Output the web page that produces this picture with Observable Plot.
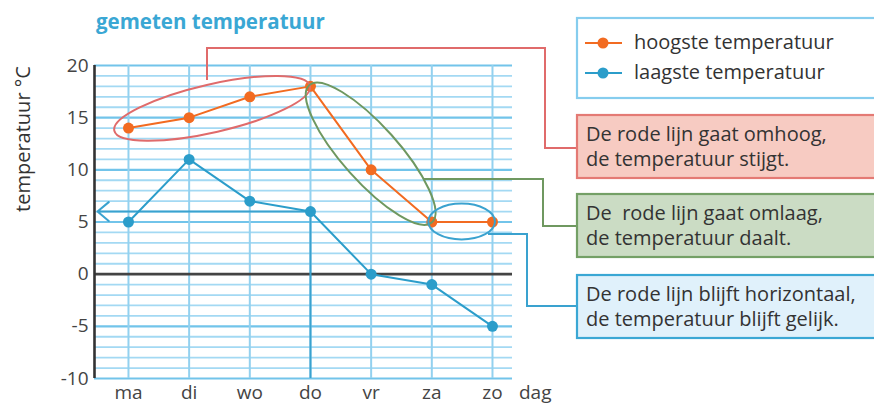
<!DOCTYPE html>
<html><head><meta charset="utf-8">
<script src="https://cdn.jsdelivr.net/npm/d3@7"></script>
<script src="https://cdn.jsdelivr.net/npm/@observablehq/plot@0.6"></script>
<style>body{margin:0;background:#fff} svg{display:block}</style>
</head><body><div id="chart"></div>
<script>
// ---- data ----
const days = ["ma", "di", "wo", "do", "vr", "za", "zo"];
const hoogste = [14, 15, 17, 18, 10, 5, 5];
const laagste = [5, 11, 7, 6, 0, -1, -5];
const yTicks = [20, 15, 10, 5, 0, -5, -10];
const seriesNames = ["hoogste temperatuur", "laagste temperatuur"];
const title = "gemeten temperatuur";
const yLabel = "temperatuur °C";
const xLabel = "dag";
const notes = [
  ["De rode lijn gaat omhoog,", "de temperatuur stijgt."],
  ["De  rode lijn gaat omlaag,", "de temperatuur daalt."],
  ["De rode lijn blijft horizontaal,", "de temperatuur blijft gelijk."]
];
const markDay = 3; // "do": arrow to the y-axis

const FONT = "'Open Sans', 'Noto Sans', sans-serif";
const orange = "#f26b21", blue = "#2b9dca", txt = "#333";
const xMin = -0.56, xMax = 6.33;

const hi = days.map((d, i) => ({i, v: hoogste[i]}));
const lo = days.map((d, i) => ({i, v: laagste[i]}));
const gridY = d3.range(-10, 21);

const chart = Plot.plot({
  width: 874, height: 405,
  marginLeft: 94, marginRight: 362, marginTop: 65, marginBottom: 27,
  style: {fontFamily: FONT, fontSize: "18px", color: "#444", background: "transparent", overflow: "visible"},
  x: {domain: [xMin, xMax], axis: null},
  y: {domain: [-10, 20], axis: null},
  marks: [
    Plot.ruleY(gridY.filter(v => v % 5 !== 0), {stroke: "#a3d9f3", strokeWidth: 1.8}),
    Plot.ruleY(gridY.filter(v => v % 5 === 0 && v !== 0), {stroke: "#72c4ea", strokeWidth: 2.2}),
    Plot.ruleX(d3.range(days.length), {stroke: "#93d1ef", strokeWidth: 2}),
    Plot.ruleY([0], {stroke: "#444", strokeWidth: 2.6}),
    Plot.ruleX([xMin], {stroke: "#333", strokeWidth: 2.6}),
    Plot.ruleX([markDay], {x: d => d, y1: -10, y2: laagste[markDay], stroke: "#3aa2cf", strokeWidth: 2}),
    Plot.arrow([markDay], {x1: d => d, y1: laagste[markDay], x2: xMin, y2: laagste[markDay],
      stroke: "#3aa2cf", strokeWidth: 2, headLength: 11, headAngle: 80, insetEnd: 3}),
    Plot.axisY({ticks: yTicks, tickFormat: d => String(d), tickSize: 0, tickPadding: 6, fontSize: 19, fill: "#444", label: null}),
    Plot.axisX({ticks: d3.range(days.length), tickFormat: i => days[i], tickSize: 0, tickPadding: 7, fontSize: 19, fill: "#444", label: null}),
    Plot.line(hi, {x: "i", y: "v", stroke: orange, strokeWidth: 2}),
    Plot.line(lo, {x: "i", y: "v", stroke: blue, strokeWidth: 2}),
    Plot.dot(hi, {x: "i", y: "v", r: 5.5, fill: orange}),
    Plot.dot(lo, {x: "i", y: "v", r: 5.5, fill: blue})
  ]
});
document.getElementById("chart").appendChild(chart);

const sx = chart.scale("x").apply, sy = chart.scale("y").apply;
const svg = d3.select(chart);
const g = svg.append("g").attr("fill", "none");
const tg = svg.append("g").attr("text-anchor", "start").attr("font-family", FONT);

// ellipses around parts of the red line
function ellipse(i1, i2, extStart, extEnd, ry, color) {
  const p1 = [sx(i1), sy(hoogste[i1])], p2 = [sx(i2), sy(hoogste[i2])];
  const dx = p2[0] - p1[0], dy = p2[1] - p1[1], L = Math.hypot(dx, dy);
  const ux = dx / L, uy = dy / L;
  const a = [p1[0] - ux * extStart, p1[1] - uy * extStart];
  const b = [p2[0] + ux * extEnd, p2[1] + uy * extEnd];
  const cx = (a[0] + b[0]) / 2, cy = (a[1] + b[1]) / 2;
  const rx = Math.hypot(b[0] - a[0], b[1] - a[1]) / 2;
  const ang = Math.atan2(dy, dx) * 180 / Math.PI;
  g.append("ellipse").attr("cx", 0).attr("cy", 0).attr("rx", rx).attr("ry", ry)
    .attr("transform", `translate(${cx},${cy}) rotate(${ang})`)
    .attr("stroke", color).attr("stroke-width", 2);
}
const red = "#e06b6b", green = "#6f9860", lblue = "#3aa2cf";
ellipse(0, 3, 14, 0, 24, red);
ellipse(3, 5, 1, 1, 28, green);
ellipse(5, 6, 3, 3, 18, lblue);

// connectors to the note boxes
const conn = (pts, color) => g.append("polyline").attr("points", pts.map(p => p.join(",")).join(" "))
  .attr("stroke", color).attr("stroke-width", 2);
conn([[207, 80], [207, 48], [545, 48], [545, 148], [577, 148]], red);
conn([[424, 179], [543, 179], [543, 226], [577, 226]], green);
conn([[488, 234], [527, 234], [527, 306], [577, 306]], lblue);

// note boxes
const boxes = [
  {y: 115, fill: "#f7cbc2", stroke: "#e47a74"},
  {y: 194, fill: "#cbdcc4", stroke: "#74a066"},
  {y: 275, fill: "#e0f1fb", stroke: "#3aa7d4"}
];
boxes.forEach((b, k) => {
  g.append("rect").attr("x", 577).attr("y", b.y).attr("width", 320).attr("height", 63)
    .attr("fill", b.fill).attr("stroke", b.stroke).attr("stroke-width", 2.2);
  notes[k].forEach((line, j) => {
    tg.append("text").attr("x", 586).attr("y", b.y + 26 + j * 25)
      .attr("font-size", 20).attr("fill", txt).style("white-space", "pre")
      .text(line);
  });
});

// legend
g.append("rect").attr("x", 577).attr("y", 18).attr("width", 320).attr("height", 80)
  .attr("stroke", "#86cdee").attr("stroke-width", 2.2);
[orange, blue].forEach((c, k) => {
  const y = 43 + k * 30;
  g.append("line").attr("x1", 585).attr("x2", 622).attr("y1", y).attr("y2", y).attr("stroke", c).attr("stroke-width", 2);
  g.append("circle").attr("cx", 603).attr("cy", y).attr("r", 5.5).attr("fill", c);
  tg.append("text").attr("x", 634).attr("y", y + 6).attr("font-size", 20)
    .attr("fill", txt).text(seriesNames[k]);
});

// title, axis labels
tg.append("text").attr("x", 96).attr("y", 29).attr("font-size", 20.5)
  .attr("font-weight", 700).attr("fill", "#3aa7d4").text(title);
tg.append("text").attr("transform", "translate(30,139) rotate(-90)").attr("text-anchor", "middle")
  .attr("font-size", 20).attr("fill", txt).text(yLabel);
tg.append("text").attr("x", 519).attr("y", 398.5).attr("font-size", 19)
  .attr("fill", "#444").text(xLabel);
</script>
</body></html>
